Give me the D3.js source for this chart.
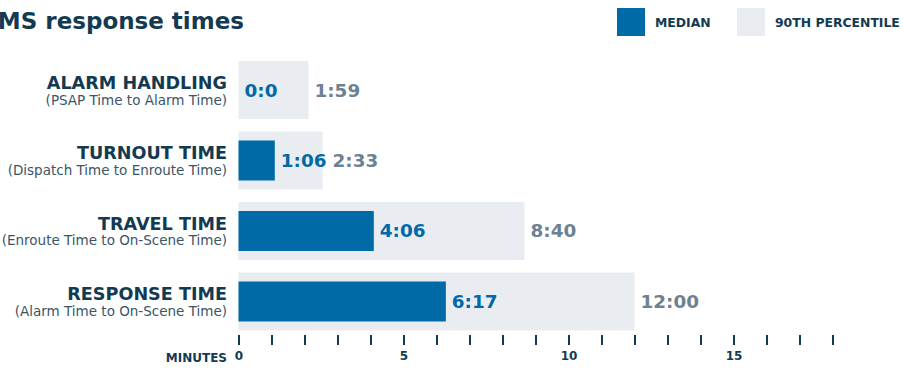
<!DOCTYPE html>
<html>
<head>
<meta charset="utf-8">
<script src="https://cdn.jsdelivr.net/npm/d3@7"></script>
<style>
  body { margin: 0; background: #fff; }
  svg { display: block; font-family: "DejaVu Sans", sans-serif; }
</style>
</head>
<body>
<div id="chart"></div>
<script>
// data (minutes)
var categories = ["ALARM HANDLING", "TURNOUT TIME", "TRAVEL TIME", "RESPONSE TIME"]
var subtitles = ["(PSAP Time to Alarm Time)", "(Dispatch Time to Enroute Time)",
                 "(Enroute Time to On-Scene Time)", "(Alarm Time to On-Scene Time)"]
var medianVals = [0, 1.1, 4.1, 6.283]
var p90Vals = [2.12, 2.55, 8.667, 12]
var medianLabels = ["0:0", "1:06", "4:06", "6:17"]
var p90Labels = ["1:59", "2:33", "8:40", "12:00"]
var tickVals = d3.range(0, 19)

var svgWdth = 903
var svgHt = 369

var navy = "#143a52"
var blue = "#006aa7"
var pale = "#e9edf1"
var grey = "#6d8193"

var svg = d3.select("#chart")
  .append("svg")
  .attr("width", svgWdth)
  .attr("height", svgHt)

var x = d3.scaleLinear().domain([0, 18]).range([238.5, 832.5])
var y = d3.scaleBand().domain(categories).range([61, 330.5]).paddingInner(0.177)

// title (left part cut off in the original)
svg.append("text")
  .attr("x", 244).attr("y", 28.5)
  .attr("text-anchor", "end")
  .attr("font-size", 23).attr("font-weight", "bold")
  .attr("fill", navy)
  .text("EMS response times")

// legend
var legend = [["MEDIAN", blue, 617], ["90TH PERCENTILE", pale, 737]]
legend.forEach(function(l) {
  svg.append("rect").attr("x", l[2]).attr("y", 8).attr("width", 28).attr("height", 28).attr("fill", l[1])
  svg.append("text").attr("x", l[2] + 38).attr("y", 27)
    .attr("font-size", 12.4).attr("font-weight", "bold").attr("fill", navy)
    .text(l[0])
})

var rows = svg.selectAll(".row")
  .data(categories)
  .enter().append("g")
  .attr("class", "row")
  .attr("transform", d => "translate(0," + y(d) + ")")

var bh = y.bandwidth()

rows.append("rect")
  .attr("x", x(0))
  .attr("y", 0)
  .attr("height", bh)
  .attr("width", (d, i) => x(p90Vals[i]) - x(0))
  .attr("fill", pale)

rows.append("rect")
  .attr("x", x(0))
  .attr("y", (bh - 40) / 2)
  .attr("height", 40)
  .attr("width", (d, i) => x(medianVals[i]) - x(0))
  .attr("fill", blue)

// category labels
rows.append("text")
  .attr("x", 227).attr("y", bh / 2 - 1)
  .attr("text-anchor", "end")
  .attr("font-size", 17.6).attr("font-weight", "bold")
  .attr("fill", navy)
  .text(d => d)

rows.append("text")
  .attr("x", 227).attr("y", bh / 2 + 14.5)
  .attr("text-anchor", "end")
  .attr("font-size", 13.5)
  .attr("fill", "#3a5568")
  .text((d, i) => subtitles[i])

// value labels
rows.each(function(d, i) {
  var g = d3.select(this)
  var mx = x(medianVals[i]) + 6
  var mt = g.append("text")
    .attr("x", mx).attr("y", bh / 2 + 6.5)
    .attr("font-size", 18.4).attr("font-weight", "bold")
    .attr("fill", blue)
    .text(medianLabels[i])
  var mEnd = mx + mt.node().getComputedTextLength()
  g.append("text")
    .attr("x", Math.max(x(p90Vals[i]), mEnd) + 6).attr("y", bh / 2 + 6.5)
    .attr("font-size", 18.4).attr("font-weight", "bold")
    .attr("fill", grey)
    .text(p90Labels[i])
})

// axis
var xAxis = svg.append("g")
  .attr("transform", "translate(0,335)")
  .call(d3.axisBottom(x).tickValues(tickVals).tickSize(10).tickPadding(6)
    .tickFormat(d => d % 5 === 0 ? d : ""))
xAxis.select(".domain").remove()
xAxis.selectAll(".tick line").attr("stroke", navy).attr("stroke-width", 2)
xAxis.selectAll(".tick text")
  .attr("fill", navy).attr("font-size", 12).attr("font-weight", "bold")
  .attr("font-family", "DejaVu Sans, sans-serif")

svg.append("text")
  .attr("x", 227).attr("y", 361.5)
  .attr("text-anchor", "end")
  .attr("font-size", 12).attr("font-weight", "bold")
  .attr("fill", navy)
  .text("MINUTES")
</script>
</body>
</html>
